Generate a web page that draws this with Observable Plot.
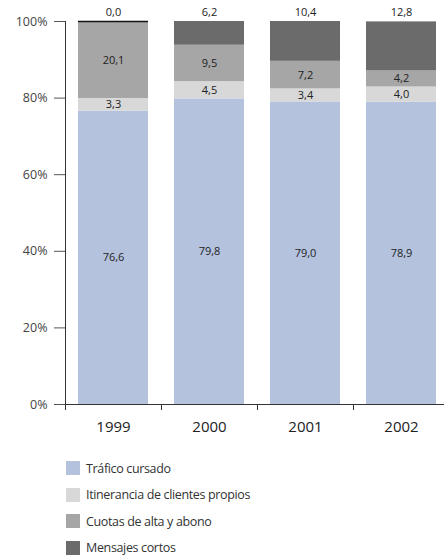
<!DOCTYPE html>
<html>
<head>
<meta charset="utf-8">
<script src="https://cdn.jsdelivr.net/npm/d3@7"></script>
<script src="https://cdn.jsdelivr.net/npm/@observablehq/plot@0.6"></script>
<style>
  html, body { margin: 0; padding: 0; background: #fff; }
  #wrap { width: 444px; height: 555px; font-family: "Open Sans", sans-serif; }
  #chart { height: 445px; }
  #chart svg { display: block; }
  #legend { padding-left: 66px; margin-top: 10px; }
  .item { display: flex; align-items: center; height: 26.5px; margin: 0; }
  .item .sw { width: 14px; height: 14px; margin-right: 6px; flex: none; }
  .item span { font-size: 12.5px; color: #333; line-height: 13px; letter-spacing: -0.35px; white-space: nowrap; }
</style>
</head>
<body>
<div id="wrap"><div id="chart"></div><div id="legend"></div></div>
<script>
const years = ["1999", "2000", "2001", "2002"];
const seriesNames = ["Tráfico cursado", "Itinerancia de clientes propios", "Cuotas de alta y abono", "Mensajes cortos"];
const seriesColors = ["#b4c2de", "#d8d8d8", "#a6a6a6", "#6b6b6b"];
const trafico = [76.6, 79.8, 79.0, 78.9];
const itinerancia = [3.3, 4.5, 3.4, 4.0];
const cuotas = [20.1, 9.5, 7.2, 4.2];
const mensajes = [0.0, 6.2, 10.4, 12.8];
const yTicks = [0, 20, 40, 60, 80, 100];

const seriesValues = [trafico, itinerancia, cuotas, mensajes];
const data = [];
seriesNames.forEach((s, si) => {
  years.forEach((y, yi) => {
    data.push({year: y, series: s, value: seriesValues[si][yi]});
  });
});
const fmt = v => v.toFixed(1).replace(".", ",");
const topSeries = seriesNames[3];

const chart = Plot.plot({
  width: 444,
  height: 445,
  marginLeft: 65,
  marginRight: -5,
  marginTop: 21,
  marginBottom: 41,
  style: {fontFamily: "Open Sans, sans-serif", background: "#fff", overflow: "visible"},
  x: {domain: years, paddingInner: 0.27, paddingOuter: 0.135, label: null},
  y: {domain: [0, 100], label: null},
  color: {domain: seriesNames, range: seriesColors},
  marks: [
    Plot.rectY(data, Plot.stackY({x: "year", y: "value", z: "series", fill: "series"})),
    Plot.tickY(data, Plot.stackY2({x: "year", y: "value", z: "series", stroke: "#111", strokeWidth: 1.5,
      strokeOpacity: d => (d.series === topSeries && d.value === 0) ? 1 : 0})),
    Plot.text(data, Plot.stackY({x: "year", y: "value", z: "series",
      text: d => d.series === topSeries ? null : fmt(d.value), fontSize: 11, fill: "#222"})),
    Plot.text(data, Plot.stackY2({x: "year", y: "value", z: "series",
      text: d => d.series === topSeries ? fmt(d.value) : null, fontSize: 11, fill: "#222", dy: -9})),
    Plot.ruleY([0], {stroke: "#333"}),
    Plot.axisY({ticks: yTicks, tickFormat: d => d + "%", tickSize: 11, tickPadding: 7, fontSize: 12.5, color: "#444", stroke: "#555", label: null}),
    Plot.ruleX([0], {x: () => years[0], dx: -48, y1: 0, y2: 100, stroke: "#333"}),
    Plot.axisX({tickSize: 6, text: null, dx: -48, stroke: "#333"}),
    Plot.axisX({tickSize: 0, tickPadding: 17, fontSize: 15, color: "#222", label: null})
  ]
});
document.getElementById("chart").appendChild(chart);

const legend = document.getElementById("legend");
seriesNames.forEach((s, i) => {
  const item = document.createElement("div");
  item.className = "item";
  const sw = document.createElement("div");
  sw.className = "sw";
  sw.style.background = seriesColors[i];
  const t = document.createElement("span");
  t.textContent = s;
  item.appendChild(sw);
  item.appendChild(t);
  legend.appendChild(item);
});
</script>
</body>
</html>
